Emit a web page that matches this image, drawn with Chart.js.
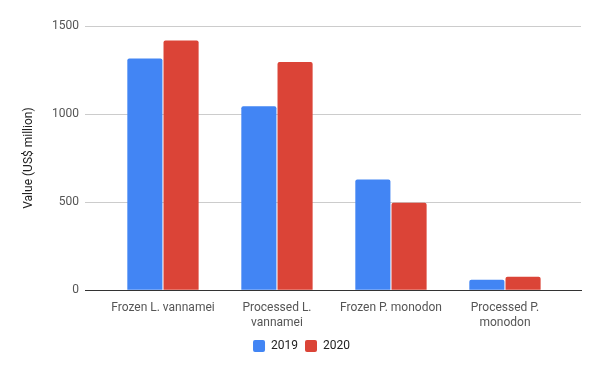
<!DOCTYPE html>
<html lang="en">
<head>
    <meta charset="UTF-8">
    <title>Shrimp Exports by Product</title>
    <script src="https://cdn.jsdelivr.net/npm/chart.js@4.4.1/dist/chart.umd.min.js"></script>
    <style>
        html, body {
            margin: 0;
            padding: 0;
            background: #fff;
        }
        .chart-box {
            width: 600px;
            height: 371px;
        }
    </style>
</head>
<body>
    <div class="chart-box">
        <canvas id="shrimpChart"></canvas>
    </div>

    <script>
        // Values
        const categories = [
            'Frozen L. vannamei',
            ['Processed L.', 'vannamei'],
            'Frozen P. monodon',
            ['Processed P.', 'monodon']
        ];
        const seriesNames = ['2019', '2020'];
        const values2019 = [1316, 1044, 628, 59];
        const values2020 = [1418, 1295, 497, 76];
        const yTicks = [0, 500, 1000, 1500];

        const blue = '#4285f4';
        const red = '#db4437';

        function points(values) {
            return values.map((v, i) => ({ x: i, y: v }));
        }

        function createChart() {
            const ctx = document.getElementById('shrimpChart').getContext('2d');
            Chart.defaults.font.family = 'Roboto, "Noto Sans", Arial, sans-serif';
            Chart.defaults.font.size = 12;

            new Chart(ctx, {
                type: 'bar',
                data: {
                    datasets: [
                        {
                            label: seriesNames[0],
                            data: points(values2019),
                            backgroundColor: blue,
                            borderRadius: 2,
                            borderSkipped: 'bottom'
                        },
                        {
                            label: seriesNames[1],
                            data: points(values2020),
                            backgroundColor: red,
                            borderRadius: 2,
                            borderSkipped: 'bottom'
                        }
                    ]
                },
                options: {
                    responsive: true,
                    maintainAspectRatio: false,
                    animation: false,
                    categoryPercentage: 0.635,
                    barPercentage: 0.97,
                    layout: {
                        padding: { left: 22, right: 19, top: 26, bottom: 9 }
                    },
                    plugins: {
                        tooltip: { enabled: false },
                        legend: {
                            position: 'bottom',
                            labels: {
                                boxWidth: 12,
                                boxHeight: 12,
                                useBorderRadius: true,
                                borderRadius: 2,
                                color: '#222',
                                padding: 7
                            }
                        }
                    },
                    scales: {
                        x: {
                            type: 'linear',
                            offset: false,
                            bounds: 'data',
                            min: -0.684,
                            max: 3.667,
                            afterBuildTicks: (scale) => {
                                scale.ticks = categories.map((c, i) => ({ value: i }));
                            },
                            grid: { display: false, offset: false },
                            border: { display: true, color: '#333', width: 1 },
                            ticks: {
                                color: '#555',
                                padding: 3,
                                autoSkip: false,
                                maxRotation: 0,
                                callback: (value) => categories[Math.round(value)]
                            }
                        },
                        y: {
                            min: 0,
                            max: 1500,
                            afterBuildTicks: (scale) => {
                                scale.ticks = yTicks.map(v => ({ value: v }));
                            },
                            afterFit: (scale) => {
                                scale.width = 63;
                            },
                            grid: { color: '#cccccc', drawTicks: false },
                            border: { display: false },
                            ticks: {
                                color: '#555',
                                padding: 6,
                                callback: (value) => String(value)
                            },
                            title: {
                                display: true,
                                text: 'Value (US$ million)',
                                color: '#222',
                                padding: { top: 0, bottom: 4 }
                            }
                        }
                    }
                }
            });
        }

        window.onload = createChart;
    </script>
</body>
</html>
